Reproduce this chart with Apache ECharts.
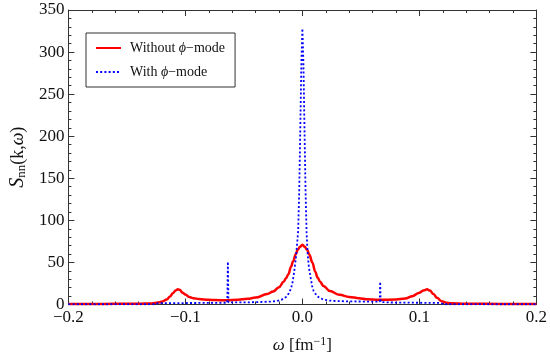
<!DOCTYPE html>
<html>
<head>
<meta charset="utf-8">
<script src="https://cdn.jsdelivr.net/npm/echarts@6/dist/echarts.min.js"></script>
<style>html,body{margin:0;padding:0;background:#fff;}#c{width:550px;height:359px;}</style>
</head>
<body>
<div id="c"></div>
<script>
// ---- data ----
const seriesNames = ['Without \u03d5\u2212mode', 'With \u03d5\u2212mode'];
const omegaRed = [-0.2,-0.17,-0.15,-0.14,-0.13,-0.125,-0.1217,-0.119,-0.116,-0.113,-0.1107,-0.108,-0.1065,-0.105,-0.1024,-0.1,-0.0968,-0.093,-0.0885,-0.08,-0.0747,-0.065,-0.055,-0.047,-0.04,-0.03,-0.025,-0.02,-0.016,-0.0139,-0.012,-0.0097,-0.008,-0.0056,-0.004,-0.002,0,
  0.002,0.004,0.006,0.0085,0.011,0.013,0.0152,0.018,0.0235,0.0318,0.04,0.0484,0.055,0.065,0.08,0.088,0.094,0.0996,0.104,0.1065,0.109,0.112,0.115,0.119,0.123,0.127,0.14,0.17,0.2];
const sRed = [0.7,0.7,0.8,0.9,1.3,2,2.8,4,6,9.5,13.5,17,18,17.5,14,12,9,7.5,6.5,5.6,5.2,5,5.6,6.7,8.2,12.5,15.5,20.5,27,31.5,36,45,51,60,65,68.5,71,
  68.5,65,59,50,39,32,27,22,16,11.5,9,7.5,6.3,5.5,5.9,7,9.9,13.8,17,18,16.5,12.5,8,4,2.2,1.4,0.9,0.7,0.7];
const omegaBlue = [-0.2,-0.126,-0.1235,-0.11,-0.09,-0.075,-0.0642,-0.0637,-0.0632,-0.055,-0.045,-0.035,-0.028,-0.022,-0.018,-0.0139,-0.0117,-0.0097,-0.0083,-0.007,-0.0056,-0.0045,-0.0036,-0.0027,-0.0018,-0.0009,0,
  0.0009,0.0018,0.0027,0.0036,0.0045,0.0055,0.0069,0.0083,0.0096,0.0125,0.0152,0.019,0.0235,0.03,0.045,0.06,0.0661,0.0665,0.0669,0.075,0.09,0.105,0.118,0.121,0.2];
const sBlue = [0.3,0.3,1.6,1.7,1.8,2,2.1,51,2.5,2.4,2.6,3,3.4,4,5.5,9,13,19,27,39,55,72,88,135,208,285,328,
  285,208,135,85,60,45,33,22,16,10,7.5,5.5,4.6,4,3.6,3.4,3.3,27,3,2.4,2.2,2,1.8,0.3,0.3];

const redPts = omegaRed.map((x, i) => [x, sRed[i]]);
const bluePts = omegaBlue.map((x, i) => [x, sBlue[i]]);

const font = 'Liberation Serif';
const axisCol = '#333';
const fmtX = v => { const s = (Math.abs(v) < 1e-9 ? 0 : v).toFixed(1); return s.replace('-', '\u2212'); };

function xAx(pos, show) {
  return {
    type: 'value', position: pos, min: -0.2, max: 0.2, interval: 0.1,
    axisLine: { show: true, onZero: false, lineStyle: { color: axisCol, width: 1 } },
    axisTick: { show: true, inside: true, length: 6, lineStyle: { color: axisCol } },
    minorTick: { show: true, splitNumber: 5, length: 3, lineStyle: { color: axisCol } },
    splitLine: { show: false },
    axisLabel: { show: show, formatter: fmtX, fontFamily: font, fontSize: 17, color: '#111', margin: 5 },
    name: show ? '{i|\u03c9} [fm{sup|\u22121}]' : '',
    nameLocation: 'middle', nameGap: 31,
    nameTextStyle: { fontFamily: font, fontSize: 17, color: '#111',
      rich: { i: { fontFamily: font, fontStyle: 'italic', fontSize: 17, color: '#111' },
              sup: { fontFamily: font, fontSize: 12, color: '#111', verticalAlign: 'top', padding: [0,0,8,0] } } }
  };
}
function yAx(pos, show) {
  return {
    type: 'value', position: pos, min: 0, max: 350, interval: 50,
    axisLine: { show: true, onZero: false, lineStyle: { color: axisCol, width: 1 } },
    axisTick: { show: true, inside: true, length: 6, lineStyle: { color: axisCol } },
    minorTick: { show: true, splitNumber: 5, length: 3, lineStyle: { color: axisCol } },
    splitLine: { show: false },
    axisLabel: { show: show, fontFamily: font, fontSize: 17, color: '#111', margin: 4 },
    name: show ? '{s|S}{sub|nn}{n|(k,}{i|\u03c9}{n|)}' : '',
    nameLocation: 'middle', nameGap: 38,
    nameTextStyle: { fontFamily: font, fontSize: 18, color: '#111',
      rich: { s: { fontFamily: font, fontStyle: 'italic', fontSize: 20, color: '#111' },
              sub: { fontFamily: font, fontSize: 13, color: '#111', padding: [7,0,0,0] },
              n: { fontFamily: font, fontSize: 18, color: '#111' },
              i: { fontFamily: font, fontStyle: 'italic', fontSize: 18, color: '#111' } } }
  };
}

const chart = echarts.init(document.getElementById('c'), null, { renderer: 'canvas' });
chart.setOption({
  animation: false,
  backgroundColor: '#fff',
  grid: { left: 56, right: 12, top: 10, bottom: 52, containLabel: false },
  xAxis: [xAx('bottom', true), xAx('top', false)],
  yAxis: [yAx('left', true), yAx('right', false)],
  legend: {
    left: 86, top: 33, orient: 'vertical',
    data: seriesNames,
    itemWidth: 25, itemHeight: 14, itemGap: 10,
    padding: [8, 10, 8, 9],
    borderColor: '#333', borderWidth: 1, backgroundColor: '#fff',
    itemStyle: { opacity: 0, color: 'rgba(0,0,0,0)', borderWidth: 0 },
    formatter: n => n.replace('\u03d5', '{i|\u03d5}'),
    textStyle: { fontFamily: font, fontSize: 14, color: '#111', padding: [0,0,0,4],
      rich: { i: { fontFamily: font, fontStyle: 'italic', fontSize: 14, color: '#111' } } }
  },
  series: [
    { name: seriesNames[0], type: 'line', data: redPts, showSymbol: false, symbol: 'none',
      smooth: 0.4, smoothMonotone: 'x',
      lineStyle: { color: '#ff0000', width: 2.5 }, itemStyle: { color: '#ff0000' }, z: 2 },
    { name: seriesNames[1], type: 'line', data: bluePts, showSymbol: false, symbol: 'none',
      lineStyle: { color: '#0000ff', width: 1.8, type: [2, 2.2] }, itemStyle: { color: '#0000ff' }, z: 3 }
  ]
});
</script>
</body>
</html>
